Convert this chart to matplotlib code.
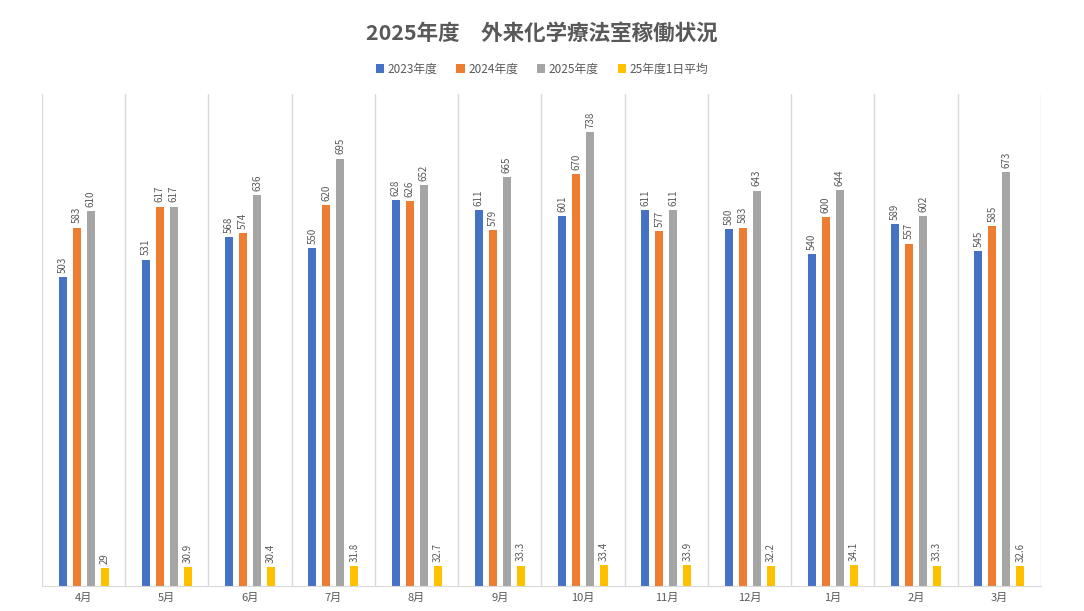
import matplotlib.pyplot as plt
from matplotlib.patches import Patch
import numpy as np

plt.rcParams["font.family"] = ["Noto Sans CJK JP", "DejaVu Sans"]

months = ["4月", "5月", "6月", "7月", "8月", "9月", "10月", "11月", "12月", "1月", "2月", "3月"]
fy2023 = [503, 531, 568, 550, 628, 611, 601, 611, 580, 540, 589, 545]
fy2024 = [583, 617, 574, 620, 626, 579, 670, 577, 583, 600, 557, 585]
fy2025 = [610, 617, 636, 695, 652, 665, 738, 611, 643, 644, 602, 673]
daily_avg = [29, 30.9, 30.4, 31.8, 32.7, 33.3, 33.4, 33.9, 32.2, 34.1, 33.3, 32.6]

series = [
    ("2023年度", fy2023, "#4472C4"),
    ("2024年度", fy2024, "#ED7D31"),
    ("2025年度", fy2025, "#A5A5A5"),
    ("25年度1日平均", daily_avg, "#FFC000"),
]

TEXT = "#595959"
GRID = "#D9D9D9"

fig = plt.figure(figsize=(10.84, 6.11), dpi=100)
ax = fig.add_axes([0.0387, 0.0409, 0.9216, 0.8051])

x = np.arange(len(months))
width = 0.096
step = 0.168
for i, (name, vals, color) in enumerate(series):
    pos = x + (i - 1.5) * step
    bars = ax.bar(pos, vals, width=width, color=color, label=name, zorder=3)
    for b, v in zip(bars, vals):
        ax.annotate(f"{v:g}", (b.get_x() + b.get_width() / 2, b.get_height()),
                    xytext=(0, 3), textcoords="offset points", rotation=90,
                    ha="center", va="bottom", fontsize=7, color=TEXT)

ax.set_xlim(-0.5, len(months) - 0.5)
ax.set_ylim(0, 800)
for b in np.arange(-0.5, len(months), 1.0):
    ax.axvline(b, color=GRID, lw=1, zorder=1)
ax.set_yticks([])
ax.set_xticks(x)
ax.set_xticklabels(months, fontsize=8, color=TEXT)
ax.tick_params(axis="x", length=0, pad=5)
for s in ("top", "left", "right"):
    ax.spines[s].set_visible(False)
ax.spines["bottom"].set_color(GRID)
ax.spines["bottom"].set_zorder(4)

fig.text(0.5, 0.946, "2025年度　外来化学療法室稼働状況", ha="center", va="center",
         fontsize=15.5, fontweight="bold", color=TEXT)

handles = [Patch(facecolor=c, label=n) for n, _, c in series]
fig.legend(handles=handles, loc="center", bbox_to_anchor=(0.5, 0.887), ncol=4,
           frameon=False, fontsize=8.5, handlelength=0.7, handleheight=0.7,
           handletextpad=0.3, columnspacing=1.6, labelcolor=TEXT)

fig.savefig("out.png", dpi=100)
